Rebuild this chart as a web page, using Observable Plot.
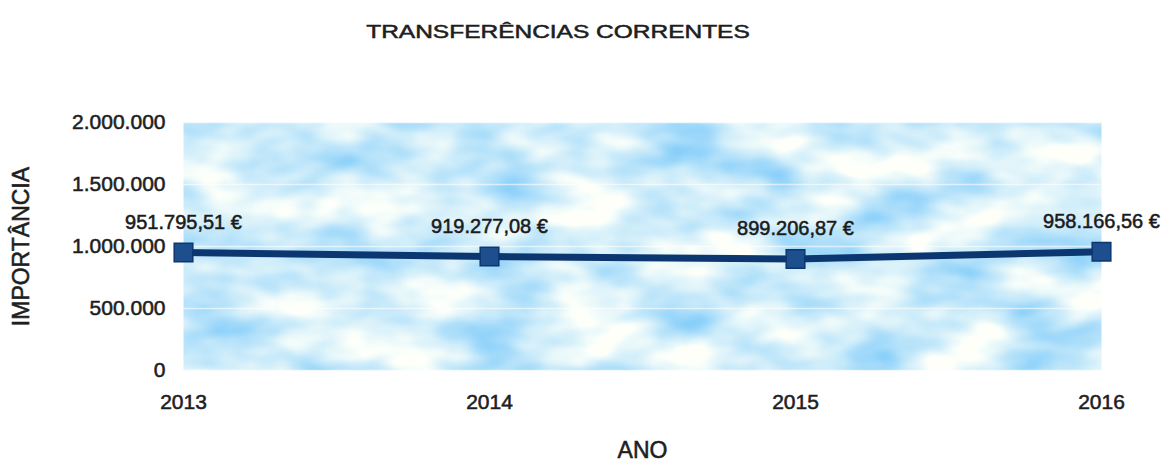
<!DOCTYPE html>
<html>
<head>
<meta charset="utf-8">
<script src="https://cdn.jsdelivr.net/npm/d3@7"></script>
<script src="https://cdn.jsdelivr.net/npm/@observablehq/plot@0.6"></script>
<style>
  html, body { margin: 0; padding: 0; background: #fff; }
  #wrap { position: relative; width: 1169px; height: 461px; font-family: "Liberation Sans", Arial, sans-serif; }
  #title { position: absolute; top: 22px; left: 558px; font-size: 18px; line-height: 20px; color: #1e1e1e;
           white-space: nowrap; transform: translateX(-50%) scaleX(1.36); -webkit-text-stroke: 0.5px #1e1e1e; }
  #chart { position: absolute; top: 0; left: 0; }
  #chart svg text { stroke: #1e1e1e; stroke-width: 0.55px; }
</style>
</head>
<body>
<div id="wrap">
  <div id="chart"></div>
  <div id="title">TRANSFERÊNCIAS CORRENTES</div>
</div>
<script>
const years = [2013, 2014, 2015, 2016];
const values = [951795.51, 919277.08, 899206.87, 958166.56];
const yTicks = [0, 500000, 1000000, 1500000, 2000000];
const xLabel = "ANO";
const yLabel = "IMPORTÂNCIA";

const data = years.map((y, i) => ({year: y, value: values[i]}));
const locale = d3.formatLocale({decimal: ",", thousands: ".", grouping: [3], currency: ["", " €"]});
const fmtInt = locale.format(",.0f");
const fmtEur = v => locale.format(",.2f")(v) + " €";

const plot = Plot.plot({
  width: 1169,
  height: 461,
  marginTop: 122,
  marginBottom: 91,
  marginLeft: 183,
  marginRight: 68,
  style: {fontFamily: "Liberation Sans, Arial, sans-serif", color: "#1e1e1e", background: "transparent"},
  x: {domain: [2013, 2016]},
  y: {domain: [0, 2000000]},
  marks: [
    Plot.frame({fill: "#bfe0f7", stroke: "none", ariaLabel: "bgframe"}),
    Plot.gridY(yTicks, {stroke: "#ffffff", strokeOpacity: 0.6, strokeWidth: 1.5}),
    Plot.axisY({ticks: yTicks, tickFormat: fmtInt, tickSize: 0, tickPadding: 18, fontSize: 21,
      label: yLabel, labelAnchor: "center", labelOffset: 171, labelArrow: false}),
    Plot.axisX({ticks: years, tickFormat: "d", tickSize: 0, tickPadding: 24, fontSize: 21,
      label: xLabel, labelAnchor: "center", labelOffset: 87, labelArrow: false}),
    Plot.line(data, {x: "year", y: "value", stroke: "#0c3670", strokeWidth: 7}),
    Plot.dot(data, {x: "year", y: "value", symbol: "square", r: 10.5, fill: "#1d4f8e", stroke: "#0c3670", strokeWidth: 1.5}),
    Plot.text(data, {x: "year", y: "value", text: d => fmtEur(d.value), dy: -30, fontSize: 20, fill: "#1a1a1a"})
  ]
});

// cloud texture filter for the plot background
const ns = "http://www.w3.org/2000/svg";
const defs = document.createElementNS(ns, "defs");
defs.innerHTML = `
  <filter id="clouds" x="0" y="0" width="100%" height="100%" color-interpolation-filters="sRGB">
    <feTurbulence type="fractalNoise" baseFrequency="0.011 0.022" numOctaves="3" seed="7" result="noise"/>
    <feColorMatrix in="noise" type="matrix"
      values="-0.85 0 0 0 1.24  -0.36 0 0 0 1.11  0 0 0 0 0.98  0 0 0 0 1" result="col"/>
    <feComposite in="col" in2="SourceGraphic" operator="in"/>
  </filter>`;
plot.insertBefore(defs, plot.firstChild);
const bg = plot.querySelector("[aria-label='bgframe']");
if (bg) bg.setAttribute("filter", "url(#clouds)");
plot.querySelectorAll("[aria-label='y-axis label'] text, [aria-label='x-axis label'] text").forEach(t => {
  t.setAttribute("font-size", "23");
});
document.getElementById("chart").appendChild(plot);
</script>
</body>
</html>
